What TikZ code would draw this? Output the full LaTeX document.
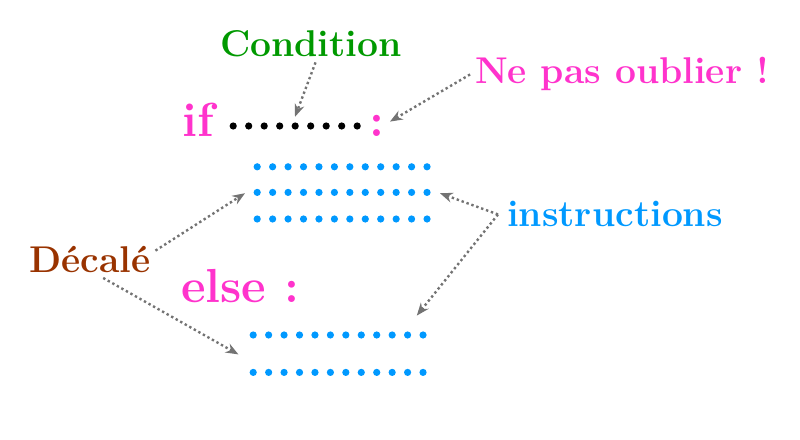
\documentclass[tikz,border=0pt]{standalone}
\usetikzlibrary{arrows.meta}
\definecolor{rose}{RGB}{255,51,204}
\definecolor{bleu}{RGB}{0,153,255}
\definecolor{vert}{RGB}{0,153,0}
\definecolor{brun}{RGB}{153,51,0}
\definecolor{gris}{RGB}{115,115,115}
\tikzset{
  etiq/.style={font=\fontsize{26.5}{30}\selectfont\bfseries, anchor=base},
  motcle/.style={font=\fontsize{34}{40}\selectfont\bfseries, text=rose, inner sep=0pt, anchor=base west},
  fleche/.style={gris, line width=1.7pt, dotted, -{Stealth[length=9pt,width=7pt]}},
}
\begin{document}
\begin{tikzpicture}
    \useasboundingbox (0,0) rectangle (20,11);
    % mots du langage
    \node[motcle] (si) at (4.55,7.575) {if};
    \node[motcle, anchor=base] (deuxpts) at (9.425,7.575) {:};
    \node[motcle] (sinon) at (4.52,3.425) {else :};
    \foreach \i in {0,...,8} \fill (5.83+0.3875*\i,7.85) circle (0.09); % condition
    \foreach \y in {6.83,6.19,5.525} {
        \foreach \i in {0,...,11} \fill[bleu] (6.43+0.386*\i,\y) circle (0.09);
    }
    \foreach \y in {2.625,1.69} {
        \foreach \i in {0,...,11} \fill[bleu] (6.33+0.386*\i,\y) circle (0.09);
    }
    % commentaires
    \node[etiq, text=vert] (cond) at (7.775,9.575) {Condition};
    \node[etiq, text=rose] (oubli) at (15.55,8.9) {Ne pas oublier !};
    \node[etiq, text=bleu] (instr) at (15.375,5.325) {instructions};
    \node[etiq, text=brun] (decal) at (2.25,4.18) {Décalé};
    \coordinate (ctip) at (7.375,8.08);
    \coordinate (otip) at (9.75,7.96);
    \coordinate (itip1) at (11.0,6.17);
    \coordinate (itip2) at (10.42,3.11);
    \coordinate (dtip1) at (6.125,6.17);
    \coordinate (dtip2) at (5.96,2.14);
    \draw[fleche] (cond.-76) -- (ctip);
    \draw[fleche] (oubli.west) -- (otip);
    \draw[fleche] ([xshift=-3pt]instr.west) -- (itip1);
    \draw[fleche] ([xshift=-3pt]instr.west) -- (itip2);
    \draw[fleche] (decal.8) -- (dtip1);
    \draw[fleche] (decal.-54) -- (dtip2);
\end{tikzpicture}
\end{document}
